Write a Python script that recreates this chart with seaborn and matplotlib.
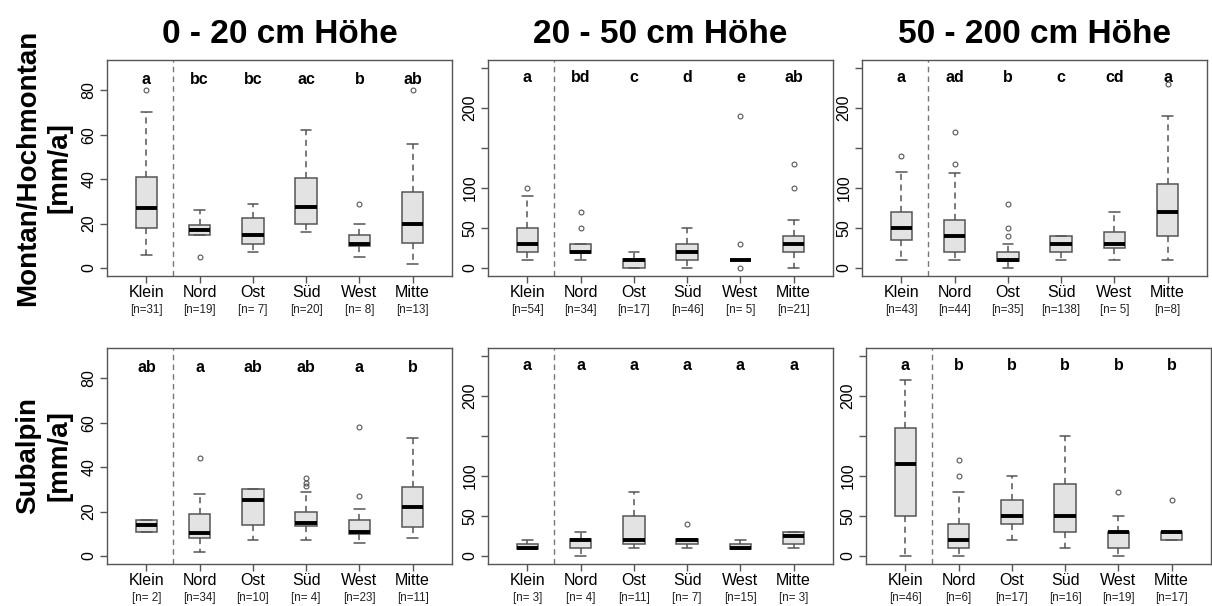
import matplotlib
matplotlib.use("Agg")
import matplotlib.pyplot as plt
import pandas as pd
import seaborn as sns

# Kategorien und Beschriftungen
lagen = ["Klein", "Nord", "Ost", "Süd", "West", "Mitte"]
hoehen = ["0 - 20 cm Höhe", "20 - 50 cm Höhe", "50 - 200 cm Höhe"]
zonen = ["Montan/Hochmontan\n[mm/a]", "Subalpin\n[mm/a]"]

# Kennwerte je Box: unterer Whisker, Q1, Median, Q3, oberer Whisker
mont_0_20 = [[6, 18, 27, 41, 70], [15, 15, 17, 19.5, 26], [7, 11, 15, 22.5, 29],
             [16, 20, 27.5, 40.5, 62], [5, 10, 11, 15, 20], [2, 11.3, 20, 34.3, 56]]
mont_0_20_ausr = [[80], [5], [], [], [29], [80]]
mont_0_20_n = ["[n=31]", "[n=19]", "[n= 7]", "[n=20]", "[n= 8]", "[n=13]"]
mont_0_20_bst = ["a", "bc", "bc", "ac", "b", "ab"]

mont_20_50 = [[10, 20, 30, 50, 90], [10, 19, 20, 30, 30], [0, 0, 10, 11, 20],
              [0, 10, 20, 30, 50], [10, 10, 10, 10, 10], [0, 20, 30, 40, 60]]
mont_20_50_ausr = [[100], [50, 70], [], [], [0, 30, 190], [100, 130]]
mont_20_50_n = ["[n=54]", "[n=34]", "[n=17]", "[n=46]", "[n= 5]", "[n=21]"]
mont_20_50_bst = ["a", "bd", "c", "d", "e", "ab"]

mont_50_200 = [[10, 35, 50, 70, 120], [10, 20, 40, 60, 119], [0, 9, 10, 20, 30],
               [10, 20, 30, 40, 40], [10, 25, 30, 45, 70], [10, 40, 70, 105, 190]]
mont_50_200_ausr = [[140], [130, 170], [40, 50, 80], [], [], [230]]
mont_50_200_n = ["[n=43]", "[n=44]", "[n=35]", "[n=138]", "[n= 5]", "[n=8]"]
mont_50_200_bst = ["a", "ad", "b", "c", "cd", "a"]

sub_0_20 = [[11, 11, 14, 16, 16], [2, 8, 10.5, 19, 28], [7, 14, 25, 30, 30],
            [7, 13.5, 15, 20, 29], [6, 10, 11, 16, 21], [8, 13, 22, 31, 53]]
sub_0_20_ausr = [[], [44], [], [31.5, 33, 35], [27, 58], []]
sub_0_20_n = ["[n= 2]", "[n=34]", "[n=10]", "[n= 4]", "[n=23]", "[n=11]"]
sub_0_20_bst = ["ab", "a", "ab", "ab", "a", "b"]

sub_20_50 = [[9, 9, 10, 15, 20], [0, 10, 20, 21, 30], [10, 15, 20, 50, 80],
             [10, 15, 20, 21, 21], [9, 9, 10, 15, 20], [10, 15, 25, 30, 30]]
sub_20_50_ausr = [[], [], [], [40], [], []]
sub_20_50_n = ["[n= 3]", "[n= 4]", "[n=11]", "[n= 7]", "[n=15]", "[n= 3]"]
sub_20_50_bst = ["a", "a", "a", "a", "a", "a"]

sub_50_200 = [[0, 50, 115, 160, 220], [0, 10, 20, 40, 80], [20, 40, 50, 70, 100],
              [10, 30, 50, 90, 150], [0, 10, 30, 30, 50], [20, 20, 30, 30, 30]]
sub_50_200_ausr = [[], [100, 120], [], [], [80], [70]]
sub_50_200_n = ["[n=46]", "[n=6]", "[n=17]", "[n=16]", "[n=19]", "[n=17]"]
sub_50_200_bst = ["a", "b", "b", "b", "b", "b"]

kennwerte = [[mont_0_20, mont_20_50, mont_50_200], [sub_0_20, sub_20_50, sub_50_200]]
ausreisser = [[mont_0_20_ausr, mont_20_50_ausr, mont_50_200_ausr],
              [sub_0_20_ausr, sub_20_50_ausr, sub_50_200_ausr]]
n_texte = [[mont_0_20_n, mont_20_50_n, mont_50_200_n], [sub_0_20_n, sub_20_50_n, sub_50_200_n]]
buchstaben = [[mont_0_20_bst, mont_20_50_bst, mont_50_200_bst],
              [sub_0_20_bst, sub_20_50_bst, sub_50_200_bst]]


def werte_aus_kennwerten(kw, ausr):
    lo, q1, med, q3, hi = kw
    unten = sorted(v for v in ausr if v < q1)
    oben = sorted(v for v in ausr if v > q3)
    m = max(len(unten), len(oben)) + 1
    return (unten + [lo] * (m - len(unten)) + [q1] * m + [med] * m + [q3]
            + [hi] * (m - len(oben)) + oben)


sns.set_style("white")
plt.rcParams["font.family"] = ["Liberation Sans", "DejaVu Sans"]
plt.rcParams["text.color"] = "black"

W, H = 1212, 606
fig = plt.figure(figsize=(W / 100, H / 100), dpi=100)

links_px = [[107, 488, 862], [107, 488, 866]]
oben_px = [60, 348]
grau = "#555555"

for r in range(2):
    for c in range(3):
        ax = fig.add_axes([links_px[r][c] / W, (H - oben_px[r] - 216) / H, 345 / W, 216 / H])
        zeilen = []
        for lage, kw, ausr in zip(lagen, kennwerte[r][c], ausreisser[r][c]):
            for v in werte_aus_kennwerten(kw, ausr):
                zeilen.append((lage, v))
        df = pd.DataFrame(zeilen, columns=["Lage", "Wert"])

        sns.boxplot(data=df, x="Lage", y="Wert", order=lagen, ax=ax, width=0.4,
                    color="#e3e3e3", saturation=1, linecolor=grau, linewidth=1.1,
                    whis=1.5,
                    medianprops=dict(color="black", linewidth=2.8),
                    whiskerprops=dict(linestyle=(0, (4, 3))),
                    flierprops=dict(marker="o", markersize=3.5, markerfacecolor="none",
                                    markeredgecolor=grau, markeredgewidth=0.8))

        ax.axvline(0.5, color="#777777", linestyle=(0, (4, 3)), linewidth=1)
        ax.set_xlim(-0.74, 5.74)
        if c == 0:
            ax.set_ylim(-3.6, 93.6)
            ax.set_yticks([0, 20, 40, 60, 80])
            ax.set_yticklabels(["0", "20", "40", "60", "80"])
            y_bst = 83
        else:
            ax.set_ylim(-10, 260)
            ax.set_yticks([0, 50, 100, 150, 200, 250])
            ax.set_yticklabels(["0", "50", "100", "", "200", ""])
            y_bst = 233
        for lbl in ax.get_yticklabels():
            lbl.set_rotation(90)
            lbl.set_va("center")

        ax.set_xlabel("")
        ax.set_ylabel("")
        ax.tick_params(axis="both", direction="out", length=5, width=1, color=grau,
                       labelsize=11.5, labelcolor="black")
        ax.tick_params(axis="x", pad=1.5, bottom=True)
        ax.tick_params(axis="y", pad=2.5, left=True)
        for sp in ax.spines.values():
            sp.set_color(grau)
            sp.set_linewidth(1)

        for i, (b, nt) in enumerate(zip(buchstaben[r][c], n_texte[r][c])):
            ax.text(i, y_bst, b, ha="center", va="baseline", fontsize=11.5,
                    fontweight="bold", color="black")
            ax.annotate(nt, xy=(i, 0), xycoords=("data", "axes fraction"),
                        xytext=(0, -33.5 * 0.72), textcoords="offset points",
                        ha="center", va="center", fontsize=8.4, color="#222222")

        if r == 0:
            ax.set_title(hoehen[c], fontsize=24, fontweight="bold", pad=12, color="black")

for r in range(2):
    mitte_y = 1 - (oben_px[r] + 108) / H
    fig.text(43.5 / W, mitte_y, zonen[r], rotation=90, ha="center", va="center",
             fontsize=20, fontweight="bold", linespacing=1.25, color="black")

fig.savefig("out.png", dpi=100)
